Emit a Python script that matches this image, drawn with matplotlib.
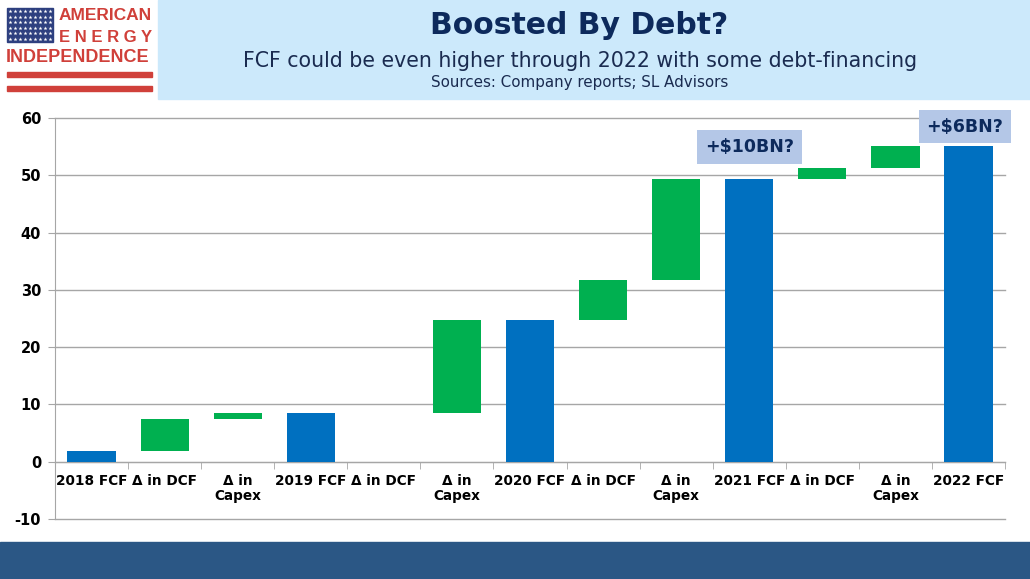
import matplotlib
matplotlib.use("Agg")
import matplotlib.pyplot as plt
import numpy as np
from matplotlib.patches import Rectangle

plt.rcParams["axes.unicode_minus"] = False

# Data (USD BN)
labels = ["2018 FCF", "\u0394 in DCF", "\u0394 in\nCapex",
          "2019 FCF", "\u0394 in DCF", "\u0394 in\nCapex",
          "2020 FCF", "\u0394 in DCF", "\u0394 in\nCapex",
          "2021 FCF", "\u0394 in DCF", "\u0394 in\nCapex",
          "2022 FCF"]
kinds = ["total", "delta", "delta",
         "total", "delta", "delta",
         "total", "delta", "delta",
         "total", "delta", "delta",
         "total"]
values = [1.8, 5.7, 1.0,
          8.5, 0.0, 16.3,
          24.8, 6.9, 17.6,
          49.3, 1.9, 3.9,
          55.1]
notes = ["+$10BN?", "+$6BN?"]
note_x = [9, 11.95]
note_y = [54.9, 58.5]

BLUE = "#0070c0"
GREEN = "#00b050"
NAVY = "#0d2a5c"
RED = "#d0403a"

# waterfall bottoms
bottoms = []
heights = []
running = 0.0
for k, v in zip(kinds, values):
    if k == "total":
        bottoms.append(0.0)
        heights.append(v)
        running = v
    else:
        bottoms.append(running)
        heights.append(v)
        running += v
colors = [BLUE if k == "total" else GREEN for k in kinds]

fig = plt.figure(figsize=(10.3, 5.79), dpi=100)
fig.patch.set_facecolor("white")
W, H = 1030, 579

def px(x0, y0, w, h):
    # pixel box (top-left origin) -> figure fraction
    return (x0 / W, 1 - (y0 + h) / H, w / W, h / H)

# header band
fig.patches.append(Rectangle(px(158, 0, 872, 99)[:2], 872 / W, 99 / H,
                             transform=fig.transFigure, color="#cce9fb", zorder=0))
# bottom band
fig.patches.append(Rectangle((0, 0), 1, (579 - 542) / H,
                             transform=fig.transFigure, color="#2b5785", zorder=0))

# logo
x0, y0, w, h = px(7, 8, 46, 34)
fig.patches.append(Rectangle((x0, y0), w, h, transform=fig.transFigure,
                             color="#2d3f7f", zorder=1))
sx, sy = np.meshgrid(np.linspace(10, 50, 9), np.linspace(11, 39, 6))
fig.add_artist(plt.Line2D((sx.ravel()) / W, 1 - sy.ravel() / H, ls="none",
                          marker="*", ms=3, color="white", mec="none",
                          transform=fig.transFigure, zorder=2))
for yy, hh in [(72, 5), (86, 5)]:
    x0, y0, w, h = px(7, yy, 145, hh)
    fig.patches.append(Rectangle((x0, y0), w, h, transform=fig.transFigure,
                                 color=RED, zorder=1))
fig.text(152 / W, 1 - 16 / H, "AMERICAN", color=RED, fontsize=12.5,
         fontweight="bold", ha="right", va="center", family="Liberation Sans")
fig.text(152 / W, 1 - 37 / H, "E N E R G Y", color=RED, fontsize=12,
         fontweight="bold", ha="right", va="center", family="Liberation Sans")
fig.text(6 / W, 1 - 57 / H, "INDEPENDENCE", color=RED, fontsize=13,
         fontweight="bold", ha="left", va="center", family="Liberation Sans")

# titles
fig.text(579 / W, 1 - 26 / H, "Boosted By Debt?", color=NAVY, fontsize=21.5,
         fontweight="bold", ha="center", va="center")
fig.text(580 / W, 1 - 61 / H,
         "FCF could be even higher through 2022 with some debt-financing",
         color="#1a2b50", fontsize=14.8, ha="center", va="center")
fig.text(580 / W, 1 - 83 / H, "Sources: Company reports; SL Advisors",
         color="#1a2b50", fontsize=10.9, ha="center", va="center")

# chart
ax = fig.add_axes([55 / W, 1 - 519 / H, 950 / W, (519 - 118) / H])
x = np.arange(len(labels))
ax.bar(x, heights, bottom=bottoms, width=0.66, color=colors, zorder=3)

ax.set_xlim(-0.5, len(labels) - 0.5)
ax.set_ylim(-10, 60)
ax.set_yticks(np.arange(-10, 61, 10))
ax.grid(axis="y", color="#a6a6a6", lw=1, zorder=0)
for gl in ax.get_ygridlines():
    gl.set_clip_on(False)
ax.set_axisbelow(True)

for s in ["top", "right"]:
    ax.spines[s].set_visible(False)
ax.spines["left"].set_color("#a6a6a6")
ax.spines["bottom"].set_position(("data", 0))
ax.spines["bottom"].set_color("#a6a6a6")

ax.set_xticks(x)
ax.set_xticklabels(labels, fontsize=9.8, fontweight="bold", linespacing=1.05)
ax.set_xticks(np.arange(-0.5, len(labels), 1), minor=True)
ax.tick_params(axis="x", which="major", length=0, pad=9)
ax.tick_params(axis="x", which="minor", length=5, color="#a6a6a6")
ax.tick_params(axis="y", length=5, color="#a6a6a6", pad=5)
for t in ax.get_yticklabels():
    t.set_fontweight("bold")
    t.set_fontsize(10.5)

for txt, nx, ny in zip(notes, note_x, note_y):
    ax.text(nx, ny, txt, ha="center", va="center", fontsize=12.5,
            fontweight="bold", color=NAVY, zorder=5,
            bbox=dict(boxstyle="square,pad=0.45", fc="#b4c7e7", ec="none"))

fig.savefig("out.png", dpi=100)
